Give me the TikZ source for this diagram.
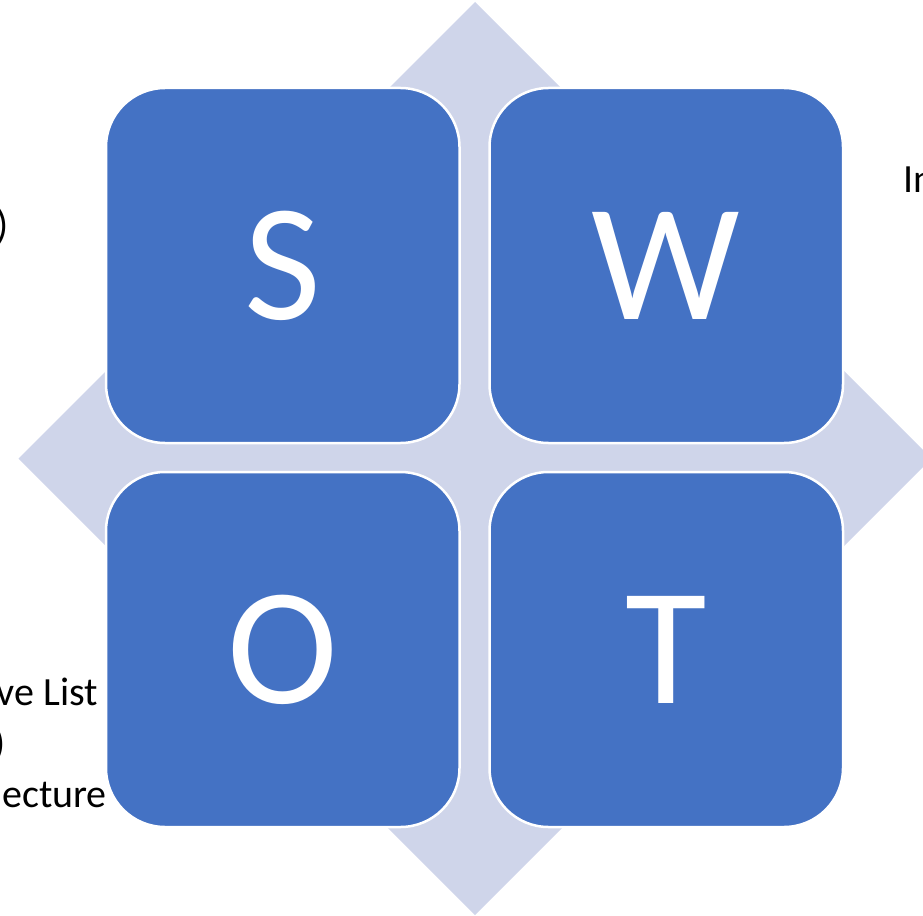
\documentclass[tikz,border=0pt]{standalone}
\usepackage{fontspec}
\setmainfont{Carlito}
\definecolor{boxblue}{HTML}{4472C4}
\definecolor{diamondgrey}{HTML}{CFD5EA}
\begin{document}
\begin{tikzpicture}[x=1pt,y=-1pt,
  swotbox/.style={rectangle, rounded corners=59pt, fill=boxblue, draw=white, line width=2.5pt,
    minimum width=353.5pt, minimum height=355pt, inner sep=0pt, text=white,
    font=\fontsize{167}{167}\selectfont},
  sidetext/.style={inner sep=0pt, font=\fontsize{40}{51}\selectfont, text=black}]
\useasboundingbox (0,0) rectangle (923,915);
\fill[diamondgrey] (475,2) -- (931.5,458.5) -- (475,915) -- (18.5,458.5) -- cycle;
\node[sidetext, anchor=base east] (t1) at (9,238) {)};
\node[sidetext, anchor=base west] (t2) at (903,192) {In};
\node[sidetext, anchor=base east] (t3) at (98,705) {ve List};
\node[sidetext, anchor=base east] (t4) at (6,756) {)};
\node[sidetext, anchor=base east] (t5) at (107,807) {ecture};
\node[swotbox] (S) at (282.75,265.5) {S};
\node[swotbox] (W) at (666.25,265.5) {W};
\node[swotbox] (O) at (282.75,649.5) {O};
\node[swotbox] (T) at (666.25,649.5) {T};
\end{tikzpicture}
\end{document}
